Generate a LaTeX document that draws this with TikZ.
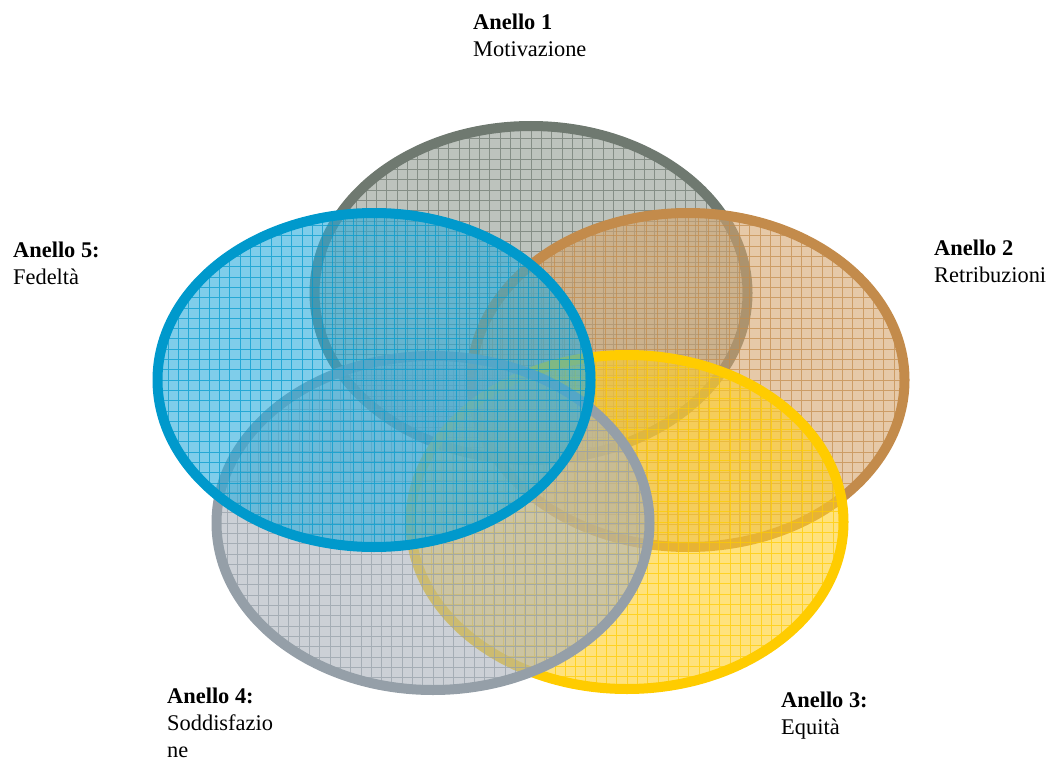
\documentclass[tikz,border=0pt]{standalone}
\usepackage{fontspec}
\setmainfont{Liberation Serif}
\usetikzlibrary{shapes.geometric}
\definecolor{ringgray}{RGB}{111,121,112}
\definecolor{ringgrayfill}{RGB}{145,155,145}
\definecolor{ringbrown}{RGB}{195,139,75}
\definecolor{ringbrownfill}{RGB}{213,165,110}
\definecolor{ringyellow}{RGB}{255,204,0}
\definecolor{ringyellowfill}{RGB}{255,207,38}
\definecolor{ringslate}{RGB}{149,159,168}
\definecolor{ringslatefill}{RGB}{170,177,187}
\definecolor{ringblue}{RGB}{0,153,204}
\definecolor{ringbluefill}{RGB}{42,172,220}
\tikzset{ring/.style={ellipse, line width=10pt, minimum width=433pt, minimum height=334pt,
    inner sep=0pt, fill opacity=0.6,
    path picture={\draw[#1, line width=0.75pt, draw opacity=0.7, step=10.3pt]
        (path picture bounding box.south west) grid (path picture bounding box.north east);}}}
\tikzset{lbl/.style={anchor=north west, align=left, inner sep=0pt,
    font=\fontsize{22.4}{27}\selectfont}}

\begin{document}
\begin{tikzpicture}[x=1pt, y=-1pt]%{{{
        \useasboundingbox (0,0) rectangle (1048,762);

        \node[ring=ringgray, draw=ringgray, fill=ringgrayfill] (R1) at (531, 293) {};
        \node[ring=ringbrown, draw=ringbrown, fill=ringbrownfill] (R2) at (688, 380) {};
        \node[ring=ringyellow, draw=ringyellow, fill=ringyellowfill] (R3) at (627, 522) {};
        \node[ring=ringslate, draw=ringslate, fill=ringslatefill] (R4) at (433, 523) {};
        \node[ring=ringblue, draw=ringblue, fill=ringbluefill] (R5) at (374, 380) {};

        \node[lbl] (L1) at (473, 14) {\textbf{Anello 1}\\Motivazione};
        \node[lbl] (L2) at (934, 240) {\textbf{Anello 2}\\Retribuzioni};
        \node[lbl] (L3) at (781, 692) {\textbf{Anello 3:}\\Equità};
        \node[lbl] (L4) at (167, 688) {\textbf{Anello 4:}\\Soddisfazio\\ne};
        \node[lbl] (L5) at (13, 242) {\textbf{Anello 5:}\\Fedeltà};
    \end{tikzpicture}
\end{document}
